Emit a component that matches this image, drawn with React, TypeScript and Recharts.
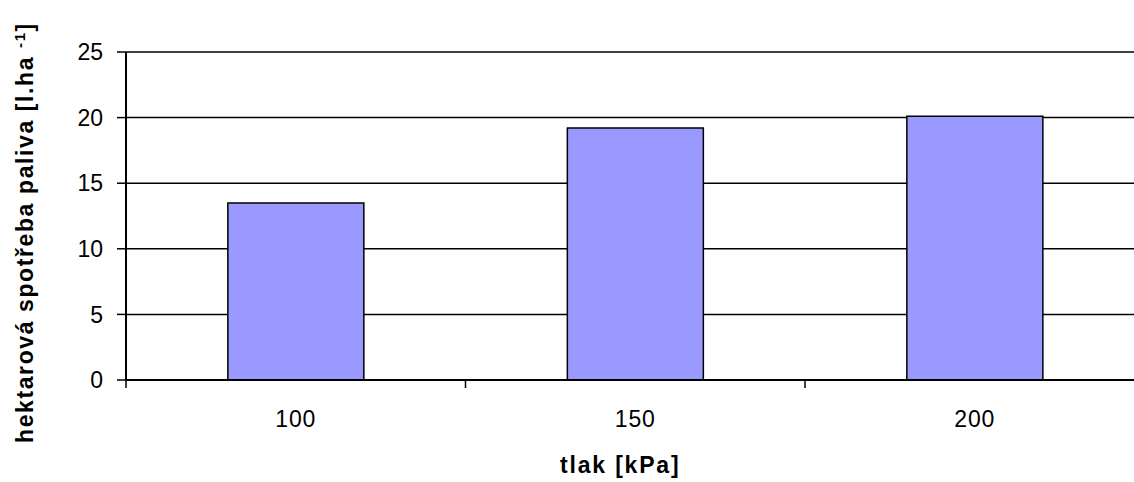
import { Bar, BarChart, CartesianGrid, XAxis, YAxis } from "recharts";

const pressures = ["100", "150", "200"];
const fuelPerHectare = [13.5, 19.2, 20.1];
const yTicks = [0, 5, 10, 15, 20, 25];

const data = pressures.map((p, i) => ({ pressure: p, fuel: fuelPerHectare[i] }));

const font = "'Liberation Sans', Arial, sans-serif";
const labelGap = 31;

// category label plus the boundary tick marks Excel draws between categories
function PressureTick(props: any) {
  const { x, y, payload, index, visibleTicksCount } = props;
  const half = payload.offset ?? 0;
  const axisY = y - labelGap;
  const isLast = index === visibleTicksCount - 1;
  return (
    <g>
      <line x1={x - half} x2={x - half} y1={axisY} y2={axisY + 8} stroke="#000" strokeWidth={1.5} />
      {isLast && (
        <line x1={x + half} x2={x + half} y1={axisY} y2={axisY + 8} stroke="#000" strokeWidth={1.5} />
      )}
      <text
        x={x}
        y={y}
        dy="0.71em"
        textAnchor="middle"
        fill="#000"
        fontSize={23}
        fontFamily={font}
        letterSpacing={0.8}
      >
        {payload.value}
      </text>
    </g>
  );
}

export default function App() {
  return (
    <div style={{ position: "absolute", left: 0, top: 0 }}>
      <BarChart
        width={1160}
        height={482}
        data={data}
        margin={{ top: 52, right: 15.5, bottom: 0, left: 0 }}
        barCategoryGap="30%"
      >
        <CartesianGrid vertical={false} stroke="#000" strokeWidth={1.5} />
        <XAxis
          dataKey="pressure"
          height={102}
          tickLine={false}
          tickSize={0}
          tickMargin={labelGap}
          axisLine={{ stroke: "#000", strokeWidth: 2 }}
          tick={<PressureTick />}
          label={{
            content: ({ viewBox }: any) => (
              <text
                x={viewBox.x + viewBox.width / 2 - 15}
                y={473}
                textAnchor="middle"
                fontFamily={font}
                fontWeight="bold"
                fontSize={23}
                letterSpacing={1.8}
                fill="#000"
              >
                tlak [kPa]
              </text>
            ),
          }}
        />
        <YAxis
          width={126}
          domain={[0, 25]}
          ticks={yTicks}
          interval={0}
          tickSize={9}
          tickMargin={14}
          axisLine={{ stroke: "#000", strokeWidth: 2 }}
          tickLine={{ stroke: "#000", strokeWidth: 1.5 }}
          tick={{ fill: "#000", fontSize: 23, fontFamily: font }}
          label={{
            content: () => (
              <text
                transform="translate(33,443) rotate(-90)"
                textAnchor="start"
                fontFamily={font}
                fontWeight="bold"
                fontSize={23}
                letterSpacing={1.6}
                fill="#000"
              >
                hektarová spotřeba paliva [l.ha
                <tspan fontSize={15} dx={8} dy={-8}>
                  -1
                </tspan>
                <tspan dy={8}>]</tspan>
              </text>
            ),
          }}
        />
        <Bar
          dataKey="fuel"
          fill="#9999FF"
          stroke="#000"
          strokeWidth={1.5}
          isAnimationActive={false}
        />
      </BarChart>
    </div>
  );
}
